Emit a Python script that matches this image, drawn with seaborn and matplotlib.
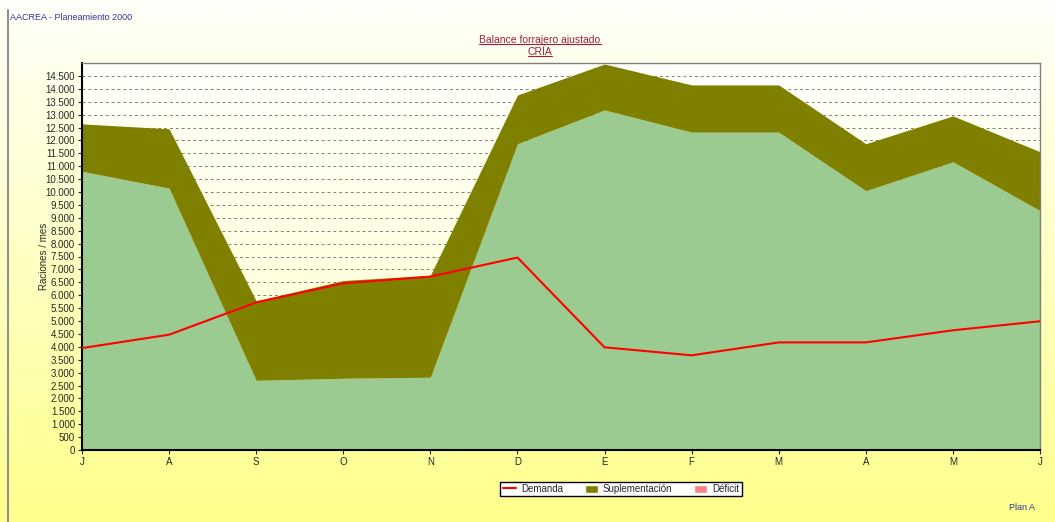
import matplotlib
matplotlib.use("Agg")
import matplotlib.pyplot as plt
import matplotlib.ticker as mticker
from matplotlib.colors import LinearSegmentedColormap
from matplotlib.lines import Line2D
from matplotlib.patches import Patch
import seaborn as sns
import pandas as pd
import numpy as np

meses = ["J", "A", "S", "O", "N", "D", "E", "F", "M", "A", "M", "J"]
forraje = [10800, 10150, 2700, 2780, 2820, 11870, 13180, 12320, 12320, 10050, 11170, 9280]
total_sup = [12640, 12450, 5780, 6570, 6770, 13760, 14960, 14150, 14150, 11870, 12950, 11560]
demanda = [3950, 4470, 5720, 6460, 6720, 7460, 3980, 3670, 4170, 4170, 4640, 4990]

sns.set_style("white")
plt.rcParams["font.family"] = ["Liberation Sans", "DejaVu Sans"]

df = pd.DataFrame({"pos": np.arange(len(meses)), "mes": meses,
                   "forraje": forraje, "total": total_sup, "demanda": demanda})

fig = plt.figure(figsize=(10.55, 5.22), dpi=100)

# fondo degradado
bg = fig.add_axes([0, 0, 1, 1], zorder=-10)
grad = np.linspace(0, 1, 256).reshape(-1, 1)
bg.imshow(grad, aspect="auto", extent=[0, 1, 0, 1],
          cmap=LinearSegmentedColormap.from_list("bg", ["#fffffb", "#ffff8c"]))
bg.axis("off")
fig.add_artist(Line2D([8 / 1055, 8 / 1055], [0, 1 - 10 / 522], color="#909090", lw=1.5))

ax = fig.add_axes([82 / 1055, 1 - 450 / 522, 958 / 1055, 387 / 522])
ax.imshow(grad, aspect="auto", extent=[0, 11, 0, 15000], zorder=0,
          cmap=LinearSegmentedColormap.from_list("pa", ["#fffffc", "#ffffc8"]))

ax.fill_between(df["pos"], 0, df["forraje"], color="#9bcb91", lw=0, zorder=1)
ax.fill_between(df["pos"], df["forraje"], df["total"], color="#808000", lw=0, zorder=1)
sns.lineplot(data=df, x="pos", y="demanda", color="#ff0000", lw=1.5, ax=ax, zorder=3)

ax.set_xlim(0, 11)
ax.set_ylim(0, 15000)
ax.set_axisbelow(True)
ax.yaxis.grid(True, linestyle=(0, (3, 3)), color="#808080", lw=0.7)
ax.xaxis.grid(False)
ax.set_yticks(np.arange(0, 15000, 500))
ax.yaxis.set_major_formatter(mticker.FuncFormatter(lambda v, p: f"{int(v):,}".replace(",", ".")))
ax.set_xticks(df["pos"])
ax.set_xticklabels(meses)
ax.tick_params(axis="both", labelsize=7, length=3, width=0.8, direction="out",
               bottom=True, left=True, pad=2)
ax.set_xlabel("")
ax.set_ylabel("Raciones / mes", fontsize=7)
ax.yaxis.set_label_coords(-0.0345, 0.5)
for s in ["top", "right"]:
    ax.spines[s].set_color("#808080")
    ax.spines[s].set_linewidth(1)
ax.spines["left"].set_color("black")
ax.spines["left"].set_linewidth(1.5)
ax.spines["bottom"].set_color("black")
ax.spines["bottom"].set_linewidth(1.5)
ax.spines["bottom"].set_linestyle((0, (2, 1)))

fig.text(10 / 1055, 1 - 18 / 522, "AACREA - Planeamiento 2000", fontsize=6.5,
         color="#333399", va="center", ha="left")
fig.text(1022 / 1055, 1 - 507 / 522, "Plan A", fontsize=6.5, color="#333399",
         va="center", ha="center")

titulos = [fig.text(540 / 1055, 1 - 40 / 522, "Balance forrajero ajustado", fontsize=7.5,
                    color="#a0203a", ha="center", va="center"),
           fig.text(540 / 1055, 1 - 52 / 522, "CRÍA", fontsize=7.5,
                    color="#a0203a", ha="center", va="center")]
fig.canvas.draw()
r = fig.canvas.get_renderer()
W, H = fig.bbox.width, fig.bbox.height
for t in titulos:
    bb = t.get_window_extent(r)
    yl = (bb.y0 + 1) / H
    fig.add_artist(Line2D([bb.x0 / W, bb.x1 / W], [yl, yl], color="#a0203a", lw=0.8))

handles = [Line2D([], [], color="#ff0000", lw=1.5, label="Demanda"),
           Patch(facecolor="#808000", label="Suplementación"),
           Patch(facecolor="#ff8080", label="Déficit")]
leg = fig.legend(handles=handles, loc="center", bbox_to_anchor=(621 / 1055, 1 - 489 / 522),
                 ncol=3, fontsize=7, frameon=True, fancybox=False, edgecolor="black",
                 framealpha=1, handlelength=1.4, handleheight=0.9, columnspacing=2.2,
                 borderpad=0.25, handletextpad=0.5)
leg.get_frame().set_linewidth(1)

fig.savefig("out.png", dpi=100)
